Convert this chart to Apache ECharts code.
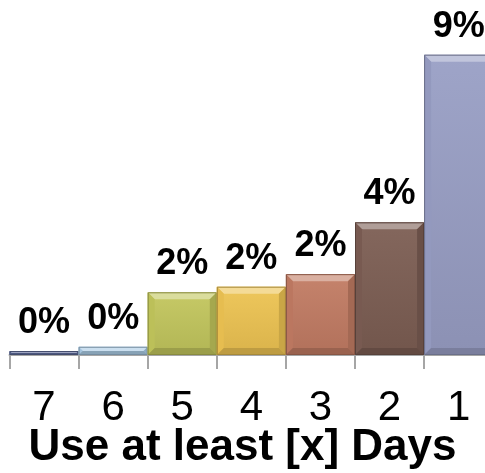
<!DOCTYPE html>
<html>
<head>
<meta charset="utf-8">
<script src="https://cdn.jsdelivr.net/npm/echarts@6/dist/echarts.min.js"></script>
<style>html,body{margin:0;padding:0;background:#fff;}#c{width:485px;height:473px;}</style>
</head>
<body>
<div id="c"></div>
<script>
var categories = ['7', '6', '5', '4', '3', '2', '1'];
var values = [0.12, 0.25, 1.9, 2.07, 2.45, 4.02, 9.1];
var axisTitle = 'Use at least [x] Days';

var palette = ['#5f6d9c', '#a9cae4', '#c2c65c', '#edc352', '#c17b63', '#7c5d53', '#989ec4'];

function shade(hex, f) {
  var r = parseInt(hex.slice(1, 3), 16), g = parseInt(hex.slice(3, 5), 16), b = parseInt(hex.slice(5, 7), 16);
  function m(c) {
    var v = f >= 0 ? c + (255 - c) * f : c * (1 + f);
    return Math.max(0, Math.min(255, Math.round(v)));
  }
  return 'rgb(' + m(r) + ',' + m(g) + ',' + m(b) + ')';
}

var chart = echarts.init(document.getElementById('c'), null, {renderer: 'canvas'});
var seriesData = values.map(function (v, i) { return [i, v]; });

chart.setOption({
  animation: false,
  backgroundColor: '#ffffff',
  title: {
    text: axisTitle,
    left: 'center',
    top: 426,
    padding: 0,
    textStyle: {fontFamily: 'Liberation Sans', fontWeight: 'bold', fontSize: 44, color: '#000'}
  },
  grid: {left: 9.5, width: 483.7, top: 25, height: 330, containLabel: false, outerBoundsMode: 'none'},
  xAxis: {
    type: 'category',
    data: categories,
    boundaryGap: true,
    axisLine: {show: true, lineStyle: {color: '#a6a6a6', width: 2}},
    axisTick: {show: true, length: 14, lineStyle: {color: '#a6a6a6', width: 2}},
    axisLabel: {margin: 32, fontFamily: 'Liberation Sans', fontSize: 42, color: '#000'},
    splitLine: {show: false}
  },
  yAxis: {
    type: 'value', min: 0, max: 10, show: false,
    splitLine: {show: false}
  },
  series: [{
    type: 'custom',
    data: seriesData,
    clip: false,
    renderItem: function (params, api) {
      var idx = api.value(0), v = api.value(1);
      var top = api.coord([idx, v]);
      var base = api.coord([idx, 0]);
      var w = api.size([1, 0])[0];
      var x0 = top[0] - w / 2, x1 = x0 + w, y0 = top[1], y1 = base[1];
      var h = y1 - y0;
      var b = Math.min(7, h / 2, w / 2);
      var c = palette[idx];
      var children = [
        {type: 'rect', shape: {x: x0, y: y0, width: w, height: h},
          style: {fill: new echarts.graphic.LinearGradient(0, 0, 0, 1, [
            {offset: 0, color: shade(c, 0.06)}, {offset: 1, color: shade(c, -0.08)}])}},
        {type: 'polygon', shape: {points: [[x0, y0], [x1, y0], [x1 - b, y0 + b], [x0 + b, y0 + b]]},
          style: {fill: shade(c, 0.4)}},
        {type: 'polygon', shape: {points: [[x0, y0], [x0 + b, y0 + b], [x0 + b, y1 - b], [x0, y1]]},
          style: {fill: shade(c, -0.03)}},
        {type: 'polygon', shape: {points: [[x1, y0], [x1, y1], [x1 - b, y1 - b], [x1 - b, y0 + b]]},
          style: {fill: shade(c, -0.15)}},
        {type: 'polygon', shape: {points: [[x0, y1], [x0 + b, y1 - b], [x1 - b, y1 - b], [x1, y1]]},
          style: {fill: shade(c, -0.2)}},
        {type: 'rect', shape: {x: x0 + 0.5, y: y0 + 0.5, width: w - 1, height: Math.max(h - 1, 0)},
          style: {fill: 'none', stroke: shade(c, -0.3), lineWidth: 1}},
        {type: 'text', style: {
          text: Math.round(v) + '%', x: top[0], y: y0 - 10,
          align: 'center', verticalAlign: 'bottom',
          font: 'bold 36px "Liberation Sans"', fill: '#000'}}
      ];
      return {type: 'group', children: children};
    }
  }]
});
</script>
</body>
</html>
